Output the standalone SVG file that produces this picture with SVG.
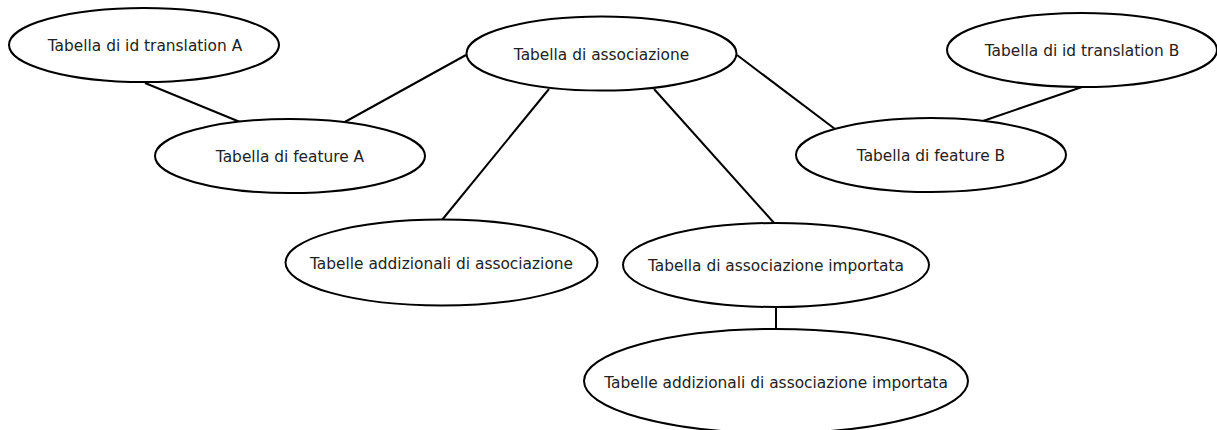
<svg xmlns="http://www.w3.org/2000/svg" width="1217" height="430" viewBox="0 0 1217 430">
  <style>
    .node ellipse { fill: #ffffff; stroke: #000000; stroke-width: 2; }
    .node text { font-family: "DejaVu Sans", "Liberation Sans", sans-serif; font-size: 15.4px; fill: #222222; text-anchor: middle; dominant-baseline: central; }
    #edges line { stroke: #000000; stroke-width: 2; }
  </style>
  <rect width="1217" height="430" fill="#ffffff"/>
  <g id="edges">
    <line x1="145" y1="83" x2="240" y2="122"/>
    <line x1="466" y1="55" x2="343" y2="123"/>
    <line x1="549" y1="89" x2="442" y2="220"/>
    <line x1="654" y1="89" x2="775" y2="224"/>
    <line x1="737" y1="55" x2="835" y2="129"/>
    <line x1="1082" y1="87" x2="983" y2="121"/>
    <line x1="776" y1="307" x2="776" y2="329"/>
  </g>
  <g id="id-translation-a" class="node">
    <ellipse cx="144" cy="45" rx="135" ry="37"/>
    <text x="145" y="46">Tabella di id translation A</text>
  </g>
  <g id="associazione" class="node">
    <ellipse cx="601.5" cy="53.5" rx="135" ry="37"/>
    <text x="601.5" y="54.5">Tabella di associazione</text>
  </g>
  <g id="id-translation-b" class="node">
    <ellipse cx="1082" cy="50" rx="135" ry="37"/>
    <text x="1082" y="51">Tabella di id translation B</text>
  </g>
  <g id="feature-a" class="node">
    <ellipse cx="290" cy="156" rx="135" ry="37"/>
    <text x="290" y="157">Tabella di feature A</text>
  </g>
  <g id="feature-b" class="node">
    <ellipse cx="931" cy="155" rx="135" ry="37"/>
    <text x="931" y="156">Tabella di feature B</text>
  </g>
  <g id="addizionali" class="node">
    <ellipse cx="441.5" cy="262.5" rx="156" ry="43"/>
    <text x="441.5" y="264">Tabelle addizionali di associazione</text>
  </g>
  <g id="importata" class="node">
    <ellipse cx="776" cy="265" rx="153" ry="42"/>
    <text x="776" y="266">Tabella di associazione importata</text>
  </g>
  <g id="addizionali-importata" class="node">
    <ellipse cx="776" cy="381" rx="192" ry="52"/>
    <text x="776" y="383">Tabelle addizionali di associazione importata</text>
  </g>
</svg>
